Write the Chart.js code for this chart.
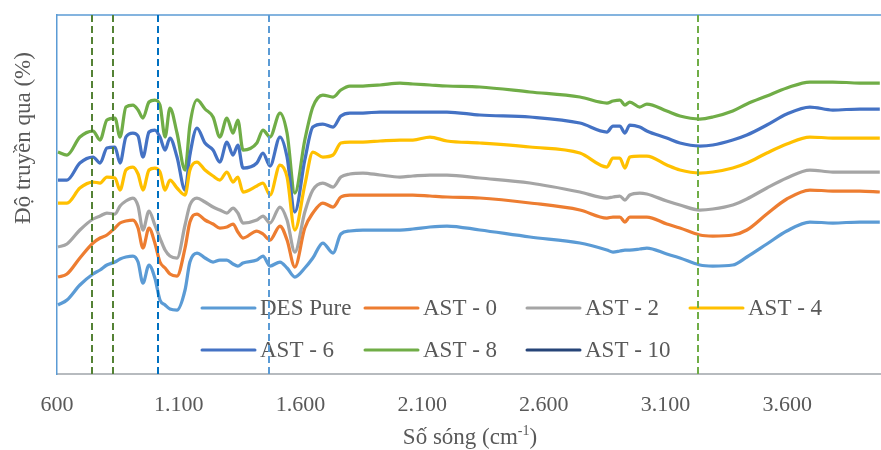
<!DOCTYPE html>
<html>
<head>
<meta charset="utf-8">
<script src="https://cdn.jsdelivr.net/npm/chart.js@4.4.1/dist/chart.umd.min.js"></script>
<style>
  html, body { margin: 0; padding: 0; background: #fff; overflow: hidden; }
  #wrap { width: 881px; height: 450px; }
</style>
</head>
<body>
<div id="wrap"><canvas id="ftirChart"></canvas></div>
<script>
// wavenumbers (cm-1) shared by every spectrum
var waveNumbers = [604, 641, 694, 748, 777, 805, 838, 859, 883, 912,
    933, 953, 978, 1002, 1023, 1044, 1064, 1093, 1126, 1146,
    1175, 1208, 1241, 1269, 1298, 1323, 1343, 1364, 1421, 1446,
    1475, 1516, 1545, 1577, 1618, 1651, 1692, 1734, 1766, 1803,
    1857, 1927, 2009, 2062, 2132, 2202, 2337, 2543, 2748, 2859,
    2884, 2912, 2933, 2953, 2994, 3023, 3105, 3159, 3241, 3294,
    3376, 3434, 3516, 3598, 3693, 3787, 3898, 3980];

var desPure = [13.8, 14.8, 17.8, 20, 20.8, 21.8, 22.4, 23, 23.4, 23.6,
    22.4, 18.2, 21.8, 19.2, 14.8, 13.8, 13, 12.8, 16.8, 22.4,
    24.2, 23.2, 22.4, 22.8, 22.8, 22, 21.6, 22.2, 22.8, 23.6,
    21.6, 22.4, 21.2, 19.4, 21.2, 23.2, 26.2, 24.2, 28, 28.6,
    28.8, 28.8, 28.8, 29, 29.4, 29.6, 28.8, 27.4, 26.2, 24.8,
    24.4, 24.6, 24.8, 24.8, 25, 25.2, 24, 23.2, 21.8, 21.6,
    21.8, 23.4, 26, 28.6, 30.4, 30.2, 30.4, 30.4];

var ast0 = [19.4, 20, 23.2, 26.2, 27.2, 27.8, 29.2, 30.2, 30.6, 30.8,
    29.2, 25.2, 29.2, 26.2, 22.4, 21.2, 20, 19.6, 25.2, 30.4,
    32, 30.8, 30, 29.2, 29.4, 30, 28.4, 27.2, 28.6, 28,
    26.8, 29.6, 26.8, 21.4, 29.2, 32.2, 34.2, 33.4, 35.4, 35.8,
    35.8, 35.8, 35.8, 35.8, 35.6, 35.4, 35.2, 34.2, 32.8, 31.2,
    31.4, 31.4, 30.4, 31.4, 31.4, 31.4, 30, 29.2, 27.8, 27.6,
    27.8, 28.8, 32, 35, 36.8, 36.6, 36.6, 36.4];

var ast2 = [25.4, 26, 28.8, 31, 31.6, 32.2, 32, 33.6, 34.6, 35.2,
    33.6, 28.8, 32.6, 29.8, 27.2, 24.8, 23.6, 23.2, 29.8, 33.8,
    35.2, 34.4, 33.4, 32.8, 32.2, 33.2, 32.2, 30.2, 30.8, 31.6,
    30.2, 33.4, 30.8, 24.4, 32.4, 36.8, 38.2, 37.4, 39.4, 40,
    40.2, 39.8, 39.4, 39.6, 39.8, 39.8, 39.2, 38.2, 36.4, 35.2,
    35.4, 35.6, 34.8, 35.8, 36.2, 36, 34.6, 33.8, 32.8, 33,
    33.8, 35, 37.2, 39.2, 40.8, 40.4, 40.4, 40.4];

var ast4 = [34.2, 34.2, 37.2, 38.4, 38.2, 39.4, 39.2, 36.8, 40.8, 41.4,
    40, 36.8, 40.8, 41.2, 40.4, 36.8, 38.8, 37.2, 35.8, 40.8,
    42.4, 40.8, 39.6, 38.8, 40.4, 38.4, 39.4, 36.4, 37.6, 38.2,
    35.8, 41.8, 39.4, 28.8, 37.8, 44.4, 43.4, 43.8, 46.2, 46.4,
    46.4, 46.6, 46.8, 46.8, 47.4, 46.6, 46.2, 45.4, 44.2, 41.4,
    43.2, 43.2, 41.2, 43.4, 43.6, 43.6, 41.8, 40.8, 40.2, 40.4,
    41.2, 42.2, 44.2, 46, 47.4, 47.2, 47.2, 47.2];

var ast6 = [38.8, 38.8, 42.2, 43.4, 42.2, 45.2, 45.4, 42.2, 47.4, 48.2,
    47.6, 43.4, 48.4, 48.8, 47.4, 44.8, 47.2, 43.4, 36.8, 43.8,
    49.2, 46.2, 44.8, 42.4, 46.4, 43.8, 45.8, 41.2, 42.2, 44.2,
    41.6, 47.4, 43.4, 32.4, 42.8, 49.4, 50, 49.4, 51.6, 52.2,
    52.2, 52.4, 52.4, 52.4, 52.4, 52.4, 51.8, 51.4, 50.2, 48.4,
    49.6, 49.6, 48.2, 49.8, 49.4, 48.6, 47.2, 46.2, 45.6, 45.8,
    46.8, 47.8, 49.8, 52, 53.4, 52.8, 53, 53];

var ast8 = [44.4, 43.8, 47.4, 48.6, 46.8, 50.8, 51.2, 47.4, 53.4, 53.8,
    52.8, 51.2, 54.4, 54.8, 53.8, 47.4, 53.2, 48.2, 40.8, 49.8,
    54.8, 53, 51.4, 47.4, 51.2, 48.2, 50.8, 44.8, 46.2, 48.8,
    47.4, 52.2, 48.2, 36.2, 46.8, 53.4, 55.8, 55.4, 56.8, 57.6,
    57.6, 57.8, 58.2, 58, 57.8, 57.6, 57.4, 56.4, 55.4, 54.2,
    54.6, 54.8, 53.8, 54.4, 53.4, 54, 52.6, 51.6, 51, 51.4,
    52.6, 54, 55.6, 57.2, 58.4, 58.4, 58.2, 58.2];

var ast10 = [];

var seriesNames = ["DES Pure", "AST - 0", "AST - 2", "AST - 4", "AST - 6", "AST - 8", "AST - 10"];
var seriesValues = [desPure, ast0, ast2, ast4, ast6, ast8, ast10];
var seriesColors = ["#5B9BD5", "#ED7D31", "#A5A5A5", "#FFC000", "#4472C4", "#70AD47", "#264478"];

var tickValues = [600, 1100, 1600, 2100, 2600, 3100, 3600];

// dashed reference wavenumbers
var markerWaves = [744, 830, 1015, 1471, 3233];
var markerColors = ["#548235", "#548235", "#0070C0", "#5B9BD5", "#70AD47"];

var serif = "'Liberation Serif', 'Times New Roman', serif";
var textColor = "#595959";

function dotThousands(v) {
    return String(v).replace(/\B(?=(\d{3})+(?!\d))/g, ".");
}

var datasets = seriesValues.map(function (vals, i) {
    return {
        label: seriesNames[i],
        data: vals.map(function (y, j) { return { x: waveNumbers[j], y: y }; }),
        borderColor: seriesColors[i],
        backgroundColor: seriesColors[i],
        borderWidth: 3.25,
        pointRadius: 0,
        cubicInterpolationMode: "monotone",
        fill: false
    };
});

var extras = {
    id: "extras",
    beforeDatasetsDraw: function (chart) {
        var ctx = chart.ctx, a = chart.chartArea;
        ctx.save();
        ctx.strokeStyle = "#5B9BD5";
        ctx.lineWidth = 1.5;
        ctx.beginPath();
        ctx.moveTo(a.left, a.top);
        ctx.lineTo(a.right, a.top);
        ctx.stroke();
        ctx.restore();
    },
    afterDraw: function (chart) {
        var ctx = chart.ctx, a = chart.chartArea, xs = chart.scales.x;
        ctx.save();

        // legend inside the plot
        var colX = [202, 365, 527, 690];
        var rowY = [308, 350];
        ctx.font = "23px " + serif;
        ctx.textBaseline = "middle";
        ctx.textAlign = "left";
        chart.data.datasets.forEach(function (ds, i) {
            var cx = colX[i % 4], cy = rowY[Math.floor(i / 4)];
            ctx.strokeStyle = ds.borderColor;
            ctx.lineWidth = 3;
            ctx.lineCap = "round";
            ctx.beginPath();
            ctx.moveTo(cx, cy);
            ctx.lineTo(cx + 53, cy);
            ctx.stroke();
            ctx.fillStyle = textColor;
            ctx.fillText(ds.label, cx + 58, cy + 1);
        });

        // dashed markers
        ctx.lineCap = "butt";
        ctx.lineWidth = 2;
        ctx.setLineDash([7, 4]);
        markerWaves.forEach(function (w, i) {
            var px = Math.round(xs.getPixelForValue(w));
            ctx.strokeStyle = markerColors[i];
            ctx.beginPath();
            ctx.moveTo(px, a.top);
            ctx.lineTo(px, a.bottom);
            ctx.stroke();
        });
        ctx.setLineDash([]);

        // axis titles
        ctx.fillStyle = textColor;
        ctx.font = "23px " + serif;
        ctx.textBaseline = "alphabetic";
        var main = "Số sóng (cm", sup = "-1", tail = ")";
        var w1 = ctx.measureText(main).width;
        var w3 = ctx.measureText(tail).width;
        ctx.font = "14px " + serif;
        var w2 = ctx.measureText(sup).width;
        var sx = 470 - (w1 + w2 + w3) / 2, by = 444;
        ctx.font = "23px " + serif;
        ctx.fillText(main, sx, by);
        ctx.font = "14px " + serif;
        ctx.fillText(sup, sx + w1, by - 9);
        ctx.font = "23px " + serif;
        ctx.fillText(tail, sx + w1 + w2, by);

        ctx.translate(24, 138);
        ctx.rotate(-Math.PI / 2);
        ctx.textAlign = "center";
        ctx.textBaseline = "middle";
        ctx.fillText("Độ truyền qua (%)", 0, 0);
        ctx.restore();
    }
};

new Chart("ftirChart", {
    type: "line",
    data: { datasets: datasets },
    options: {
        responsive: true,
        maintainAspectRatio: false,
        animation: false,
        layout: { padding: { top: 15, right: 0, left: 0, bottom: 0 } },
        plugins: {
            legend: { display: false },
            tooltip: { enabled: false }
        },
        scales: {
            x: {
                type: "linear",
                min: 600,
                max: 3985,
                afterBuildTicks: function (s) {
                    s.ticks = tickValues.map(function (v) { return { value: v }; });
                },
                afterFit: function (s) { s.height = 76; },
                grid: { display: false },
                border: { display: true, color: "#B7BBBF", width: 2 },
                ticks: {
                    padding: 10,
                    maxRotation: 0,
                    color: textColor,
                    font: { family: serif, size: 22 },
                    callback: function (v) { return dotThousands(v); }
                }
            },
            y: {
                min: 0,
                max: 71.8,
                afterFit: function (s) { s.width = 57; },
                grid: { display: false },
                border: { display: true, color: "#5B9BD5", width: 1.5 },
                ticks: { display: false }
            }
        }
    },
    plugins: [extras]
});
</script>
</body>
</html>
